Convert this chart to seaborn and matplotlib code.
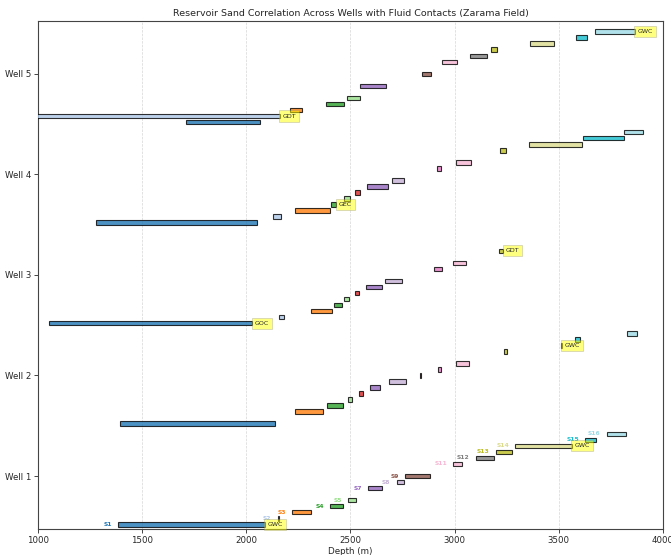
import numpy as np
import pandas as pd
import seaborn as sns
import matplotlib
matplotlib.use('Agg')
import matplotlib.pyplot as plt

nan = np.nan

# sands and wells
sands = ['S%d' % i for i in range(1, 17)]
wells = ['Well 1', 'Well 2', 'Well 3', 'Well 4', 'Well 5']

# top / base depth (m) of each sand, nan = sand not present
well1_top = [1385, 2150, 2219, 2402, 2488, nan, 2584, 2721, 2761, nan, 2993, 3102, 3199, 3292, 3626, 3730]
well1_base = [2090, 2155, 2312, 2464, 2528, nan, 2653, 2757, 2881, nan, 3036, 3188, 3275, 3562, 3677, 3821]

well2_top = [1393, nan, 2232, 2388, 2488, 2540, 2596, 2684, 2833, 2921, 3009, nan, 3237, 3509, 3579, 3826]
well2_base = [2138, nan, 2368, 2462, 2505, 2560, 2641, 2767, 2838, 2935, 3071, nan, 3250, 3515, 3602, 3874]

well3_top = [1051, 2155, 2309, 2419, 2469, 2524, 2573, 2664, nan, 2902, 2990, nan, 3214, nan, nan, nan]
well3_base = [2029, 2182, 2410, 2458, 2493, 2540, 2652, 2748, nan, 2937, 3057, nan, 3233, nan, nan, nan]

well4_top = [1279, 2128, 2232, 2408, 2467, 2524, 2580, 2700, nan, 2913, 3009, nan, 3220, 3358, 3614, 3813]
well4_base = [2051, 2168, 2404, 2432, 2500, 2545, 2682, 2756, nan, 2935, 3078, nan, 3246, 3610, 3813, 3906]

well5_top = [1712, 950, 2211, 2384, 2485, nan, 2548, nan, 2841, nan, 2940, 3076, 3174, 3363, 3584, 3675]
well5_base = [2064, 2160, 2266, 2471, 2545, nan, 2669, nan, 2886, nan, 3012, 3156, 3203, 3478, 3635, 3866]

# fluid contacts (well number, sand, contact type)
contact_well = [1, 1, 2, 3, 3, 4, 5, 5]
contact_sand = ['S1', 'S14', 'S14', 'S1', 'S13', 'S4', 'S2', 'S16']
contact_type = ['GWC', 'GWC', 'GWC', 'GOC', 'GDT', 'GEC', 'GDT', 'GWC']

tops = [well1_top, well2_top, well3_top, well4_top, well5_top]
bases = [well1_base, well2_base, well3_base, well4_base, well5_base]

rows = []
for w in range(5):
    for i, s in enumerate(sands):
        rows.append({'well': w + 1, 'sand': s, 'idx': i, 'top': tops[w][i], 'base': bases[w][i]})
df = pd.DataFrame(rows)
df['y'] = df['well'] + (df['idx'] - 8) * 0.06

sns.set_style('ticks')
colors = plt.cm.tab20(np.linspace(0, 1, 16))

fig, ax = plt.subplots(figsize=(6.71, 5.55), dpi=100)
fig.subplots_adjust(left=0.0566, right=0.988, bottom=0.0463, top=0.962)

present = df.dropna(subset=['top'])
for _, r in present.iterrows():
    ax.barh(r['y'], r['base'] - r['top'], left=r['top'], height=0.045,
            color=colors[int(r['idx'])], edgecolor='black', linewidth=0.8, alpha=0.8, zorder=3)
    # sand names only on the first well
    if r['well'] == 1:
        ax.text(r['top'] - 30, r['y'], r['sand'], ha='right', va='center',
                fontsize=4.3, fontweight='bold', color=colors[int(r['idx'])], zorder=4)

# fluid contacts
for w, s, c in zip(contact_well, contact_sand, contact_type):
    r = df[(df['well'] == w) & (df['sand'] == s)].iloc[0]
    ax.text(r['base'] + 12, r['y'], c, ha='left', va='center', fontsize=4.5, zorder=5,
            bbox=dict(boxstyle='square,pad=0.5', facecolor='yellow', edgecolor='grey',
                      linewidth=0.4, alpha=0.5))

ax.set_xlim(1000, 4000)
ax.set_ylim(0.47, 5.525)
ax.set_yticks(range(1, 6))
ax.set_yticklabels(wells)
ax.tick_params(labelsize=6.2, length=3, width=0.6, pad=2)
ax.grid(axis='x', linestyle='--', color='#bbbbbb', linewidth=0.5, alpha=0.6)
for sp in ax.spines.values():
    sp.set_linewidth(0.8)
    sp.set_color('#444444')

ax.set_xlabel('Depth (m)', fontsize=6.3, labelpad=1.5)
ax.set_title('Reservoir Sand Correlation Across Wells with Fluid Contacts (Zarama Field)', fontsize=6.8, pad=4)

plt.savefig('out.png', dpi=100)
